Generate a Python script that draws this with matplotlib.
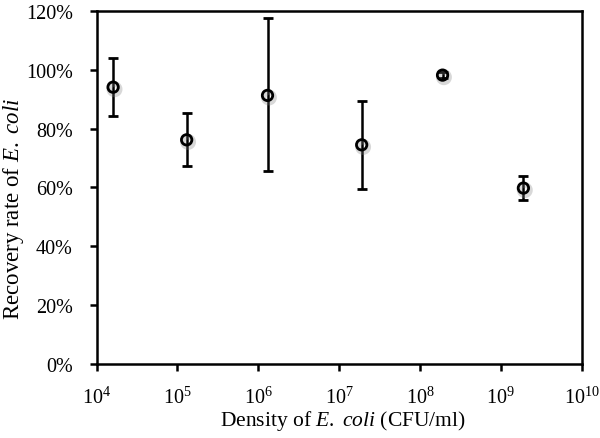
import matplotlib
matplotlib.use("Agg")
import matplotlib.pyplot as plt
import matplotlib.patheffects as pe
from matplotlib.ticker import LogLocator, LogFormatterMathtext, NullLocator, PercentFormatter

plt.rcParams['font.family'] = ['Liberation Serif', 'DejaVu Serif']
plt.rcParams['mathtext.fontset'] = 'custom'
plt.rcParams['mathtext.rm'] = 'Liberation Serif'
plt.rcParams['mathtext.it'] = 'Liberation Serif:italic'

# density (CFU/ml) and recovery rate (%) with error
density = [1.6e4, 1.3e5, 1.3e6, 1.9e7, 1.9e8, 1.9e9]
recovery = [94.1, 76.2, 91.3, 74.5, 98.2, 59.8]
err_low = [9.9, 8.8, 25.8, 15.0, 1.0, 4.0]
err_high = [10.0, 9.0, 26.2, 14.9, 1.0, 4.1]

fig = plt.figure(figsize=(6, 4.39), dpi=100)
ax = fig.add_axes([0.161, 0.1686, 0.8085, 0.8041])

cont = ax.errorbar(density, recovery, yerr=[err_low, err_high], fmt='o',
                   color='black', mfc='none', mec='black', ms=7.5, mew=2,
                   elinewidth=1.8, capsize=3.3, capthick=1.8, zorder=3)
cont.lines[0].set_path_effects([
    pe.SimpleLineShadow(offset=(1, -1.5), shadow_color='gray', alpha=0.3, linewidth=4),
    pe.Normal()])

ax.set_xscale('log')
ax.set_xlim(1e4, 1e10)
ax.set_ylim(0, 120)
ax.xaxis.set_major_locator(LogLocator(base=10, numticks=10))
ax.xaxis.set_major_formatter(LogFormatterMathtext())
ax.xaxis.set_minor_locator(NullLocator())
ax.set_yticks(range(0, 121, 20))
ax.yaxis.set_major_formatter(PercentFormatter(decimals=0))

for s in ax.spines.values():
    s.set_linewidth(1.8)
ax.tick_params(axis='both', direction='out', length=5, width=1.8, labelsize=14.5)
ax.tick_params(axis='y', pad=12)
ax.tick_params(axis='x', pad=11)

ax.set_xlabel(r'Density of $\mathit{E.\ coli}$ (CFU/ml)', fontsize=15.5, va='baseline')
ax.xaxis.set_label_coords(0.508, -0.174)
ax.set_ylabel(r'Recovery rate of $\mathit{E.\ coli}$', fontsize=16.5)
ax.yaxis.set_label_coords(-0.145, 0.443)

fig.savefig('out.png', dpi=100)
